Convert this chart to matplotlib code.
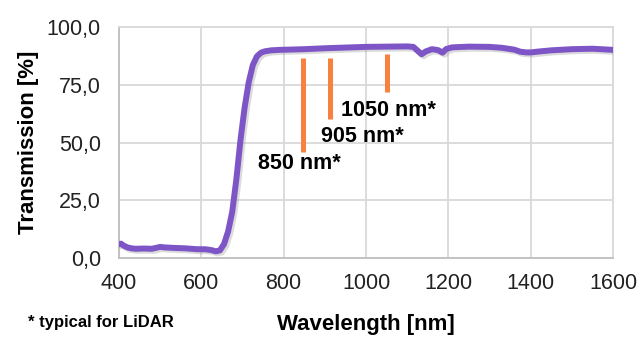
import matplotlib
matplotlib.use("Agg")
import matplotlib.pyplot as plt
import matplotlib.patheffects as pe
from matplotlib.ticker import FuncFormatter

# transmission curve
wavelength = [400, 405, 410, 420, 430, 440, 460, 480, 500, 510, 530, 560, 590, 610, 625,
              635, 645, 655, 665, 675, 685, 695, 705, 715, 725, 735, 745, 755, 770, 790,
              850, 900, 950, 1000, 1050, 1100, 1115, 1125, 1135, 1145, 1160, 1175, 1186,
              1195, 1210, 1250, 1300, 1330, 1360, 1375, 1390, 1400, 1420, 1450, 1500,
              1550, 1600]
transmission = [6.0, 6.2, 5.5, 4.6, 4.2, 4.0, 4.1, 4.0, 4.8, 4.6, 4.4, 4.2, 3.8, 3.8, 3.4,
                2.9, 3.3, 6.0, 11.5, 20.0, 34.0, 51.0, 65.0, 76.0, 83.5, 87.3, 88.9, 89.5,
                89.9, 90.1, 90.4, 90.8, 91.1, 91.4, 91.5, 91.6, 91.4, 89.8, 88.2, 89.4,
                90.4, 90.0, 88.9, 90.5, 91.2, 91.5, 91.4, 91.0, 90.2, 89.3, 89.0, 89.0,
                89.4, 89.9, 90.4, 90.6, 90.1]

# typical LiDAR wavelengths: marker position, top and bottom of bar
lidar_labels = ["850 nm*", "905 nm*", "1050 nm*"]
lidar_x = [848, 912, 1052]
lidar_top = [86.4, 86.4, 88.3]
lidar_bottom = [45.8, 60.0, 72.0]
label_x = [737, 890, 939]
label_y = [41.1, 52.5, 64.0]

x_ticks = [400, 600, 800, 1000, 1200, 1400, 1600]
y_ticks = [0, 25, 50, 75, 100]

plt.rcParams["font.family"] = ["Liberation Sans", "DejaVu Sans"]

fig = plt.figure(figsize=(6.42, 3.48), dpi=100)
ax = fig.add_axes([0.1854, 0.2586, 0.7694, 0.6638])

purple = "#7E55C6"
orange = "#F98140"
grid = "#D9D9D9"

ax.plot(wavelength, transmission, color=purple, lw=4.3, solid_capstyle="round",
        solid_joinstyle="round", zorder=3,
        path_effects=[pe.SimpleLineShadow(offset=(1.5, -1.5), shadow_color="#999999", alpha=0.35),
                      pe.Normal()])

ax.vlines(lidar_x, lidar_bottom, lidar_top, color=orange, lw=3.6, zorder=4)
for txt, tx, ty in zip(lidar_labels, label_x, label_y):
    ax.text(tx, ty, txt, fontsize=15.5, fontweight="bold", va="center", ha="left", color="black")

ax.set_xlim(400, 1600)
ax.set_ylim(0, 100)
ax.set_xticks(x_ticks)
ax.set_yticks(y_ticks)
ax.yaxis.set_major_formatter(FuncFormatter(lambda v, p: f"{v:.1f}".replace(".", ",")))
ax.grid(True, color=grid, lw=1.3)
ax.set_axisbelow(True)
for side in ["top", "right"]:
    ax.spines[side].set_color(grid)
    ax.spines[side].set_linewidth(1.3)
for side in ["left", "bottom"]:
    ax.spines[side].set_color("#BFBFBF")
    ax.spines[side].set_linewidth(1.3)
ax.tick_params(length=0, labelsize=15.5, colors="#222222")
ax.tick_params(axis="x", pad=11)
ax.tick_params(axis="y", pad=13)

ax.set_xlabel("Wavelength [nm]", fontsize=16, fontweight="bold", labelpad=14)
ax.set_ylabel("Transmission [%]", fontsize=16, fontweight="bold", labelpad=6)

fig.text(28 / 642, 1 - 323 / 348, "* typical for LiDAR", fontsize=12, fontweight="bold",
         va="center", ha="left")

fig.savefig("out.png", dpi=100)
